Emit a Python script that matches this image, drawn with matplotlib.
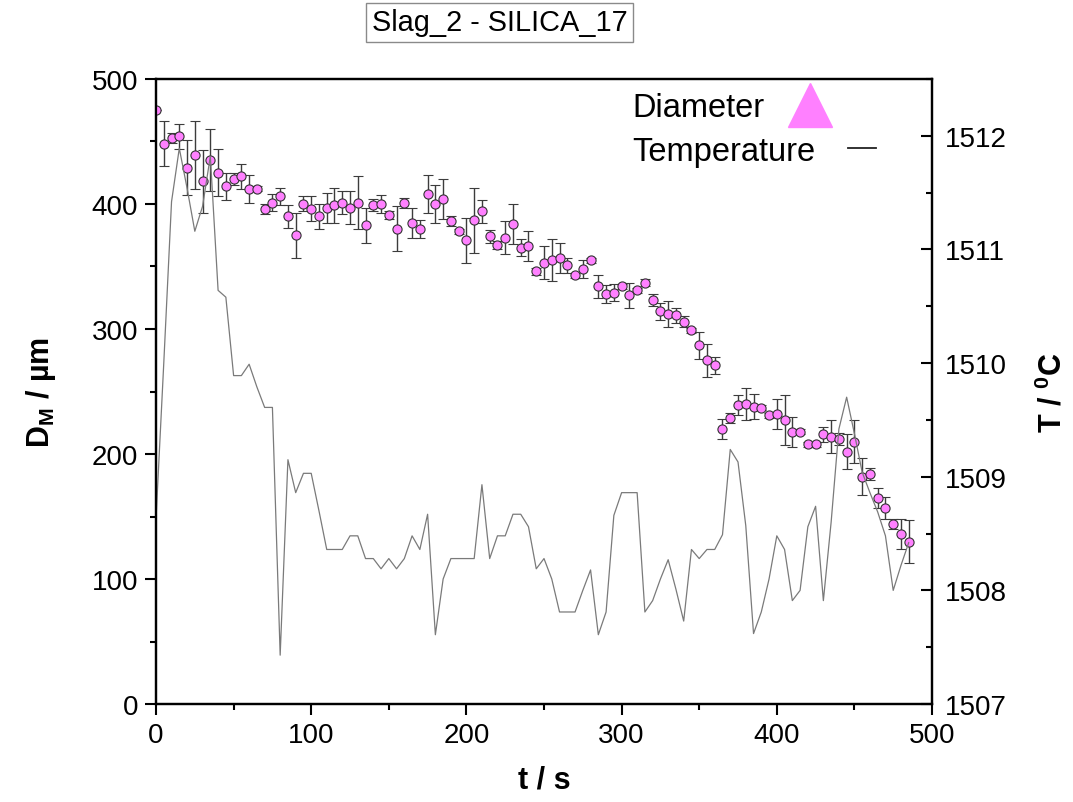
import numpy as np
import matplotlib
matplotlib.use("Agg")
import matplotlib.pyplot as plt
from matplotlib.lines import Line2D
from matplotlib.ticker import MultipleLocator

plt.rcParams['font.family'] = ['Liberation Sans', 'DejaVu Sans']
plt.rcParams['mathtext.fontset'] = 'custom'
plt.rcParams['mathtext.rm'] = 'Liberation Sans'
plt.rcParams['mathtext.bf'] = 'Liberation Sans:bold'
plt.rcParams['mathtext.it'] = 'Liberation Sans:italic'

title = "Slag_2 - SILICA_17"

time_s = np.arange(0, 490, 5)

diameter = [475, 448, 453, 454, 429, 439, 418, 435, 425, 414,
            420, 422, 412, 412, 396, 401, 406, 390, 375, 400,
            396, 390, 397, 399, 401, 397, 401, 383, 399, 400,
            391, 380, 401, 385, 380, 408, 400, 404, 386, 378,
            371, 387, 394, 374, 367, 373, 384, 365, 366, 346,
            353, 355, 357, 351, 343, 348, 355, 334, 328, 329,
            334, 327, 331, 337, 323, 314, 312, 311, 306, 299,
            287, 275, 271, 220, 229, 239, 240, 238, 237, 231,
            232, 227, 218, 218, 208, 208, 216, 214, 212, 202,
            210, 182, 184, 165, 157, 144, 136, 130]

diameter_err = [0, 18, 4, 10, 22, 27, 25, 25, 19, 11,
                5, 10, 11, 2, 4, 7, 7, 9, 18, 6,
                10, 10, 12, 14, 9, 13, 21, 14, 5, 7,
                3, 18, 4, 12, 7, 15, 15, 16, 4, 2,
                18, 26, 9, 5, 3, 13, 16, 7, 12, 3,
                13, 17, 12, 6, 2, 7, 2, 9, 7, 7,
                2, 10, 2, 3, 5, 7, 10, 6, 4, 2,
                11, 13, 7, 8, 4, 8, 13, 10, 2, 2,
                12, 20, 12, 2, 2, 2, 6, 13, 5, 14,
                17, 15, 5, 8, 9, 4, 12, 17]

temperature = [1508.63, 1510.00, 1511.42, 1511.89, 1511.54, 1511.16, 1511.38, 1511.82, 1510.64, 1510.58,
               1509.89, 1509.89, 1509.99, 1509.79, 1509.61, 1509.61, 1507.43, 1509.15, 1508.86, 1509.03,
               1509.03, 1508.70, 1508.36, 1508.36, 1508.36, 1508.48, 1508.48, 1508.28, 1508.28, 1508.19,
               1508.28, 1508.19, 1508.28, 1508.48, 1508.36, 1508.67, 1507.61, 1508.10, 1508.28, 1508.28,
               1508.28, 1508.28, 1508.93, 1508.28, 1508.48, 1508.48, 1508.67, 1508.67, 1508.56, 1508.19,
               1508.28, 1508.10, 1507.81, 1507.81, 1507.81, 1508.00, 1508.18, 1507.61, 1507.81, 1508.66,
               1508.86, 1508.86, 1508.86, 1507.81, 1507.91, 1508.10, 1508.27, 1508.01, 1507.73, 1508.36,
               1508.28, 1508.36, 1508.36, 1508.49, 1509.24, 1509.13, 1508.57, 1507.62, 1507.81, 1508.10,
               1508.48, 1508.36, 1507.91, 1508.00, 1508.56, 1508.74, 1507.91, 1508.60, 1509.42, 1509.70,
               1509.38, 1509.04, 1508.86, 1508.69, 1508.48, 1508.00, 1508.22, 1508.42]

x_ticks = [0, 100, 200, 300, 400, 500]
left_ticks = [0, 100, 200, 300, 400, 500]
right_ticks = [1507, 1508, 1509, 1510, 1511, 1512]

fig = plt.figure(figsize=(10.73, 8.03), dpi=100)
ax = fig.add_axes([0.1454, 0.122, 0.8686 - 0.1454, 0.9004 - 0.122])
ax2 = ax.twinx()

# Diameter with error bars
ax.errorbar(time_s, diameter, yerr=diameter_err, fmt='o', ms=6.6,
            mfc='#ff80ff', mec='#333333', mew=0.8,
            ecolor='#3c3c3c', elinewidth=1.0, capsize=3.4, capthick=1.0, zorder=3)

# Temperature line
ax2.plot(time_s, temperature, color='#7a7a7a', lw=0.9)

ax.set_xlim(0, 500)
ax.set_ylim(0, 500)
ax2.set_ylim(1507, 1512.5)

ax.set_xticks(x_ticks)
ax.set_yticks(left_ticks)
ax2.set_yticks(right_ticks)
ax.xaxis.set_minor_locator(MultipleLocator(50))
ax.yaxis.set_minor_locator(MultipleLocator(50))
ax2.yaxis.set_minor_locator(MultipleLocator(0.5))

for a in (ax, ax2):
    for s in a.spines.values():
        s.set_linewidth(1.6)

ax.tick_params(axis='both', which='major', direction='out', length=8, width=1.5,
               labelsize=20, pad=5)
ax.tick_params(axis='both', which='minor', direction='out', length=4.5, width=1.5)
ax.tick_params(top=False, which='both')
ax2.tick_params(axis='y', which='major', direction='in', length=8, width=1.5,
                labelsize=20, pad=9)
ax2.tick_params(axis='y', which='minor', direction='in', length=4.5, width=1.5)

ax.set_xlabel('t / s', fontsize=22, fontweight='bold', labelpad=12)
ax.set_ylabel(r'$\mathbf{D_M}$ / µm', fontsize=22, fontweight='bold', labelpad=24)
ax2.set_ylabel(r'T / $\mathbf{^0}$C', fontsize=22, fontweight='bold', labelpad=22)

# Legend (text first, handle after)
h1 = Line2D([], [], ls='none', marker='^', ms=31, mfc='#ff80ff', mec='#ff80ff')
h2 = Line2D([], [], color='#222222', lw=1.3)
leg1 = ax2.legend([h1], ['Diameter'], loc='upper left', bbox_to_anchor=(0.597, 1.0),
                  frameon=False, markerfirst=False, fontsize=23.5,
                  handlelength=1.4, handletextpad=0.7, borderaxespad=0)
ax2.add_artist(leg1)
ax2.legend([h2], ['Temperature'], loc='upper left', bbox_to_anchor=(0.597, 0.93),
           frameon=False, markerfirst=False, fontsize=23.5,
           handlelength=0.85, handletextpad=1.0, borderaxespad=0)

fig.text(0.4655, 0.971, title, ha='center', va='center', fontsize=20.8,
         bbox=dict(boxstyle='square,pad=0.2', fc='white', ec='#8a8a8a', lw=1.0))

fig.savefig('out.png', dpi=100)
